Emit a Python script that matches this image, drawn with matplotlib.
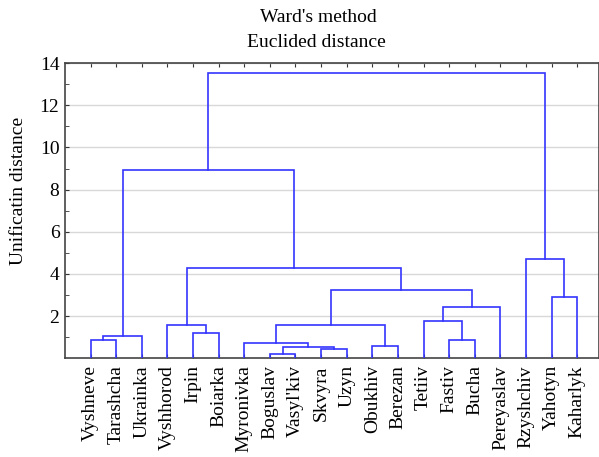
import matplotlib.pyplot as plt
import numpy as np

plt.rcParams['font.family'] = ['Liberation Serif', 'DejaVu Serif']

towns = ['Vyshneve', 'Tarashcha', 'Ukrainka', 'Vyshhorod', 'Irpin', 'Boiarka',
         'Myronivka', 'Boguslav', "Vasyl'kiv", 'Skvyra', 'Uzyn', 'Obukhiv',
         'Berezan', 'Tetiiv', 'Fastiv', 'Bucha', 'Pereyaslav', 'Rzyshchiv',
         'Yahotyn', 'Kaharlyk']

# merges in order: (left node, right node, distance); new node ids start at 20
left_node = [0, 20, 4, 3, 7, 9, 24, 6, 11, 27, 14, 13, 31, 29, 23, 21, 18, 17, 35]
right_node = [1, 2, 5, 22, 8, 10, 25, 26, 12, 28, 15, 30, 16, 32, 33, 34, 19, 36, 37]
heights = [0.89, 1.06, 1.19, 1.57, 0.22, 0.43, 0.52, 0.71, 0.58, 1.58,
           0.89, 1.77, 2.41, 3.24, 4.30, 8.93, 2.92, 4.73, 13.54]

n = len(towns)
xpos = {i: i + 1.0 for i in range(n)}
ypos = {i: 0.0 for i in range(n)}

fig = plt.figure(figsize=(5.99, 4.57), dpi=100)
ax = fig.add_axes([0.1085, 0.216, 0.8915, 0.646])

for k, (a, b, h) in enumerate(zip(left_node, right_node, heights)):
    xa, xb = xpos[a], xpos[b]
    ax.plot([xa, xa, xb, xb], [ypos[a], h, h, ypos[b]],
            color='#3535ff', lw=1.2, zorder=3, solid_joinstyle='miter')
    xpos[n + k] = (xa + xb) / 2
    ypos[n + k] = h

ax.set_xlim(0, 20.85)
ax.set_ylim(0, 14)
ax.set_xticks(np.arange(1, n + 1))
ax.set_xticklabels(towns, rotation=90, fontsize=14)
ax.set_yticks(np.arange(2, 15, 2))
ax.set_yticks(np.arange(1, 14, 2), minor=True)
ax.tick_params(axis='y', which='both', direction='in', labelsize=14,
               length=3, color='#333333', pad=4)
ax.tick_params(axis='x', direction='in', top=True, length=3, color='#333333', pad=5)
ax.grid(axis='y', which='major', color='#d8d8d8', lw=1.0, zorder=0)
for s in ax.spines.values():
    s.set_color('#444444')
    s.set_linewidth(1.2)

fig.text(0.031, 0.582, 'Unificatin distance', rotation=90,
         ha='center', va='center', fontsize=14)
fig.text(0.531, 0.962, "Ward's method", ha='center', va='center', fontsize=14)
fig.text(0.529, 0.908, 'Euclided distance', ha='center', va='center', fontsize=14)

fig.savefig('out.png', dpi=100)
